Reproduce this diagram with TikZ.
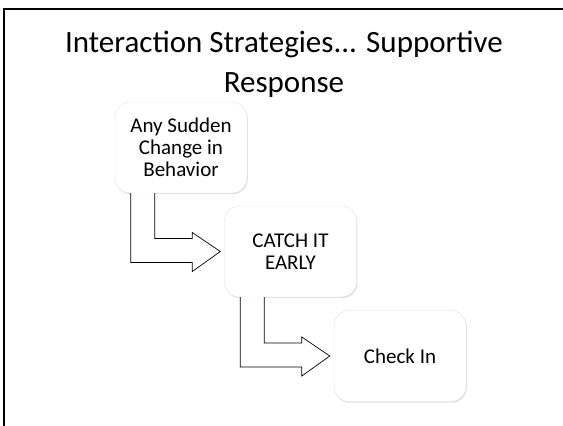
\documentclass[tikz,border=0pt]{standalone}
\usepackage{fontspec}
\setmainfont{Carlito}
\usetikzlibrary{calc,positioning,shadows}
\tikzset{
      stepbox/.style = {draw=black!12, fill=white, rounded corners=15pt,
        minimum width=132pt, minimum height=91pt, align=center,
        font=\fontsize{21}{22}\selectfont,
        drop shadow={shadow xshift=0.8pt, shadow yshift=-1.2pt, opacity=0.3, fill=black!40}},
      bentarrow/.style = {draw=black, fill=white, line width=0.7pt, line join=miter},
      titletext/.style = {align=center, font=\fontsize{31}{40}\selectfont},
    }
% bent block arrow from the bottom of one box into the side of the next
\newcommand{\bendarrow}[2]{%
  \draw[bentarrow] let \p1=(#1.south west), \p2=(#2.west) in
    (\x1+16pt,\y1) -- (\x1+16pt,\y2-11pt) -- (\x2-32pt,\y2-11pt)
    -- (\x2-32pt,\y2-20pt) -- (\x2-4pt,\y2) -- (\x2-32pt,\y2+19pt)
    -- (\x2-32pt,\y2+13pt) -- (\x1+40pt,\y2+13pt) -- (\x1+40pt,\y1);}

\begin{document}
\begin{tikzpicture}[x=1pt,y=-1pt,node distance=104pt and 110pt,on grid]
        \useasboundingbox (0,0) rectangle (563,426);
        \draw[line width=2.4pt] (4,9) rectangle (600,460);
        \node [titletext] (title) at (284,64.5)
          {Interaction Strategies... Supportive\\Response};
        \node [stepbox] (a) at (181,147.5) {Any Sudden\\Change in\\Behavior};
        \node [stepbox] (b) [below right=104pt and 109.5pt of a] {CATCH IT\\EARLY};
        \node [stepbox] (c) [below right=104.5pt and 109.5pt of b] {Check In};
        \bendarrow{a}{b}
        \bendarrow{b}{c}
    \end{tikzpicture}
\end{document}
